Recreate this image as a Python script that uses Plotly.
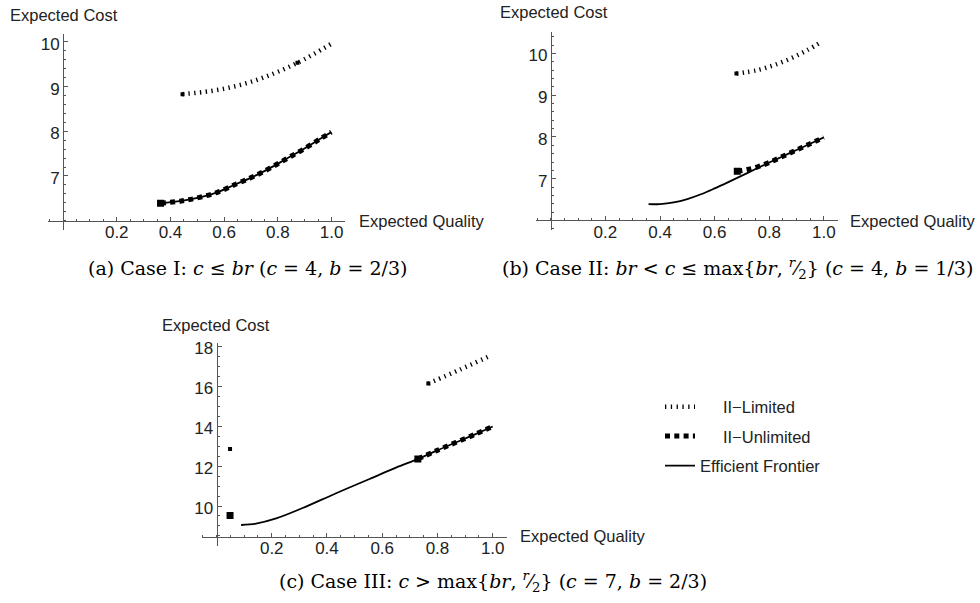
import plotly.graph_objects as go

W, H = 980, 603

# ---------------- data ----------------
# Panel (a)  Case I
a_front_x = [0.363, 0.440, 0.508, 0.577, 0.645, 0.707, 0.769, 0.831, 0.893, 0.955, 0.999]
a_front_y = [6.39, 6.44, 6.52, 6.64, 6.82, 6.98, 7.17, 7.38, 7.59, 7.82, 7.98]
a_unl_x = [0.363, 0.440, 0.508, 0.577, 0.645, 0.707, 0.769, 0.831, 0.893, 0.955, 0.999]
a_unl_y = [6.39, 6.44, 6.52, 6.64, 6.82, 6.98, 7.17, 7.38, 7.59, 7.82, 7.98]
a_lim_x = [0.445, 0.55, 0.65, 0.75, 0.873, 1.0]
a_lim_y = [8.83, 8.90, 9.02, 9.21, 9.53, 9.96]
a_lim_dot_x = [0.445, 0.873]
a_lim_dot_y = [8.83, 9.53]

# Panel (b)  Case II
b_front_x = [0.358, 0.40, 0.45, 0.50, 0.55, 0.60, 0.65, 0.70, 0.75, 0.80, 0.85, 0.90, 0.95, 1.0]
b_front_y = [6.39, 6.393, 6.433, 6.513, 6.628, 6.768, 6.918, 7.073, 7.233, 7.388, 7.538, 7.688, 7.838, 7.99]
b_unl_x = [0.683, 0.72, 0.76, 0.80, 0.85, 0.90, 0.95, 1.0]
b_unl_y = [7.18, 7.22, 7.29, 7.388, 7.538, 7.688, 7.838, 7.99]
b_lim_x = [0.68, 0.756, 0.817, 0.878, 0.939, 0.994]
b_lim_y = [9.52, 9.60, 9.72, 9.88, 10.08, 10.29]

# Panel (c)  Case III
c_front_x = [0.089, 0.143, 0.216, 0.312, 0.433, 0.554, 0.650, 0.729, 0.795, 0.868, 0.940, 1.0]
c_front_y = [9.05, 9.12, 9.38, 9.90, 10.64, 11.35, 11.92, 12.35, 12.76, 13.19, 13.61, 13.98]
c_unl_x = [0.729, 0.795, 0.868, 0.940, 1.0]
c_unl_y = [12.35, 12.76, 13.19, 13.61, 13.98]
c_lim_x = [0.767, 0.882, 0.993]
c_lim_y = [16.13, 16.83, 17.53]
c_unl_iso_x = [0.049]
c_unl_iso_y = [9.53]
c_lim_iso_x = [0.049]
c_lim_iso_y = [12.85]

x_ticks = [0.2, 0.4, 0.6, 0.8, 1.0]
x_ticktext = ["0.2", "0.4", "0.6", "0.8", "1.0"]
ab_y_ticks = [7, 8, 9, 10]
c_y_ticks = [10, 12, 14, 16, 18]

names = ["II\u2212Limited", "II\u2212Unlimited", "Efficient Frontier"]
captions = [
    "(a) Case I: <i>c</i> \u2264 <i>br</i> (<i>c</i> = 4, <i>b</i> = 2/3)",
    "(b) Case II: <i>br</i> &lt; <i>c</i> \u2264 max{<i>br</i>, <sup><i>r</i></sup>\u2044<sub>2</sub>} (<i>c</i> = 4, <i>b</i> = 1/3)",
    "(c) Case III: <i>c</i> &gt; max{<i>br</i>, <sup><i>r</i></sup>\u2044<sub>2</sub>} (<i>c</i> = 7, <i>b</i> = 2/3)",
]
axis_x_title = "Expected Quality"
axis_y_title = "Expected Cost"

# ---------------- styling ----------------
SANS = "Liberation Sans, Arial, sans-serif"
SERIF = "DejaVu Serif, serif"
AXC = "#555555"
TXC = "#222222"
LIM_LINE = dict(color="black", width=4.5, dash="1.3px,4.5px")
UNL_LINE = dict(color="black", width=5, dash="5px,4.3px")
FR_LINE = dict(color="black", width=1.8)
FS = 17
FS_T = 16.5
DY = -2


def px_x(p):
    return p / W


def px_y(p):
    return 1 - p / H


# panel geometry in pixels: left, right, top, bottom, x range, y range, crossing y
panels = [
    dict(l=48, r=345, t=32 + DY, b=230 + DY, xr=[-0.056, 1.05], yr=[5.78, 10.18], cross=6.0,
         yt=ab_y_ticks, ymin=0.2),
    dict(l=535.5, r=837.5, t=30 + DY, b=230 + DY, xr=[-0.056, 1.05], yr=[5.76, 10.52], cross=6.0,
         yt=ab_y_ticks, ymin=0.2),
    dict(l=201.6, r=506.5, t=343 + DY, b=548 + DY, xr=[-0.054, 1.05], yr=[7.98, 18.17], cross=8.46,
         yt=c_y_ticks, ymin=0.5),
]

fig = go.Figure()
layout = {}
for i, p in enumerate(panels, start=1):
    xd = [px_x(p["l"]), px_x(p["r"])]
    yd = [px_y(p["b"]), px_y(p["t"])]
    xpos = yd[0] + (p["cross"] - p["yr"][0]) / (p["yr"][1] - p["yr"][0]) * (yd[1] - yd[0])
    ypos = xd[0] + (0 - p["xr"][0]) / (p["xr"][1] - p["xr"][0]) * (xd[1] - xd[0])
    sfx = "" if i == 1 else str(i)
    layout["xaxis" + sfx] = dict(
        domain=xd, range=p["xr"], anchor="free", position=xpos,
        showline=True, linecolor=AXC, linewidth=1, zeroline=False, showgrid=False,
        tickmode="array", tickvals=x_ticks, ticktext=x_ticktext,
        ticks="inside", ticklen=4, tickcolor=AXC, tickwidth=1, ticklabelstandoff=-4,
        minor=dict(ticks="inside", ticklen=2, dtick=0.05, tick0=0, tickcolor=AXC),
        tickfont=dict(family=SANS, size=FS, color=TXC), fixedrange=True,
    )
    layout["yaxis" + sfx] = dict(
        domain=yd, range=p["yr"], anchor="free", position=ypos,
        showline=True, linecolor=AXC, linewidth=1, zeroline=False, showgrid=False,
        tickmode="array", tickvals=p["yt"], ticktext=[str(v) for v in p["yt"]],
        ticks="inside", ticklen=4, tickcolor=AXC, tickwidth=1, ticklabelshift=2,
        minor=dict(ticks="inside", ticklen=2, dtick=p["ymin"], tick0=0, tickcolor=AXC),
        tickfont=dict(family=SANS, size=FS, color=TXC), fixedrange=True,
    )


def add(x, y, panel, line=None, marker=None, name=None, legend=False, group=None, shape="spline"):
    sfx = "" if panel == 1 else str(panel)
    kw = dict(x=x, y=y, xaxis="x" + sfx, yaxis="y" + sfx, name=name,
              showlegend=legend, legendgroup=group, hoverinfo="skip")
    if line is not None:
        kw.update(mode="lines", line=dict(shape=shape, smoothing=1.0, **line))
    else:
        kw.update(mode="markers", marker=marker)
    fig.add_trace(go.Scatter(**kw))


SQ_BIG = dict(symbol="square", size=7, color="black")
SQ_SMALL = dict(symbol="square", size=4, color="black")

# panel a
add(a_front_x, a_front_y, 1, line=FR_LINE)
add(a_unl_x, a_unl_y, 1, line=UNL_LINE)
add(a_unl_x[:1], a_unl_y[:1], 1, marker=SQ_BIG)
add(a_lim_x, a_lim_y, 1, line=LIM_LINE)
add(a_lim_dot_x, a_lim_dot_y, 1, marker=SQ_SMALL)

# panel b
add(b_front_x, b_front_y, 2, line=FR_LINE)
add(b_unl_x, b_unl_y, 2, line=UNL_LINE)
add(b_unl_x[:1], b_unl_y[:1], 2, marker=SQ_BIG)
add(b_lim_x, b_lim_y, 2, line=LIM_LINE)
add(b_lim_x[:1], b_lim_y[:1], 2, marker=SQ_SMALL)

# panel c (carries the legend)
NB = "\u00a0" * 5
add(c_lim_x, c_lim_y, 3, line=LIM_LINE, name=NB + names[0], legend=True, group="g1")
add(c_lim_x[:1], c_lim_y[:1], 3, marker=SQ_SMALL)
add(c_lim_iso_x, c_lim_iso_y, 3, marker=SQ_SMALL)
add(c_unl_x, c_unl_y, 3, line=UNL_LINE, name=NB + names[1], legend=True, group="g2")
add(c_unl_x[:1], c_unl_y[:1], 3, marker=SQ_BIG)
add(c_unl_iso_x, c_unl_iso_y, 3, marker=SQ_BIG)
add(c_front_x, c_front_y, 3, line=FR_LINE, name=names[2], legend=True, group="g3")

annotations = []
# axis titles
for (xl, yc) in [(8, 11), (498, 8), (160, 323)]:
    annotations.append(dict(text=axis_y_title, x=px_x(xl), y=px_y(yc), xref="paper", yref="paper",
                            xanchor="left", yanchor="middle", showarrow=False,
                            font=dict(family=SANS, size=FS_T, color=TXC)))
for (xl, yc) in [(357, 218), (848, 218), (518, 536)]:
    annotations.append(dict(text=axis_x_title, x=px_x(xl), y=px_y(yc), xref="paper", yref="paper",
                            xanchor="left", yanchor="middle", showarrow=False,
                            font=dict(family=SANS, size=FS_T, color=TXC)))
# captions
for txt, (xc, yc) in zip(captions, [(248, 266), (737, 266), (493, 581)]):
    annotations.append(dict(text=txt, x=px_x(xc), y=px_y(yc), xref="paper", yref="paper",
                            xanchor="center", yanchor="middle", showarrow=False,
                            font=dict(family=SERIF, size=19, color="black")))

layout.update(
    width=W, height=H, margin=dict(l=0, r=0, t=0, b=0),
    paper_bgcolor="white", plot_bgcolor="rgba(0,0,0,0)",
    showlegend=True,
    legend=dict(x=px_x(660), y=px_y(388), xanchor="left", yanchor="top",
                font=dict(family=SANS, size=FS_T, color=TXC), tracegroupgap=5,
                traceorder="grouped", bgcolor="rgba(0,0,0,0)", borderwidth=0),
    annotations=annotations,
)
fig.update_layout(**layout)
fig.write_html("out.html", config={"displayModeBar": False},
               post_script="document.body.style.margin='0px';document.body.style.overflow='hidden';")
